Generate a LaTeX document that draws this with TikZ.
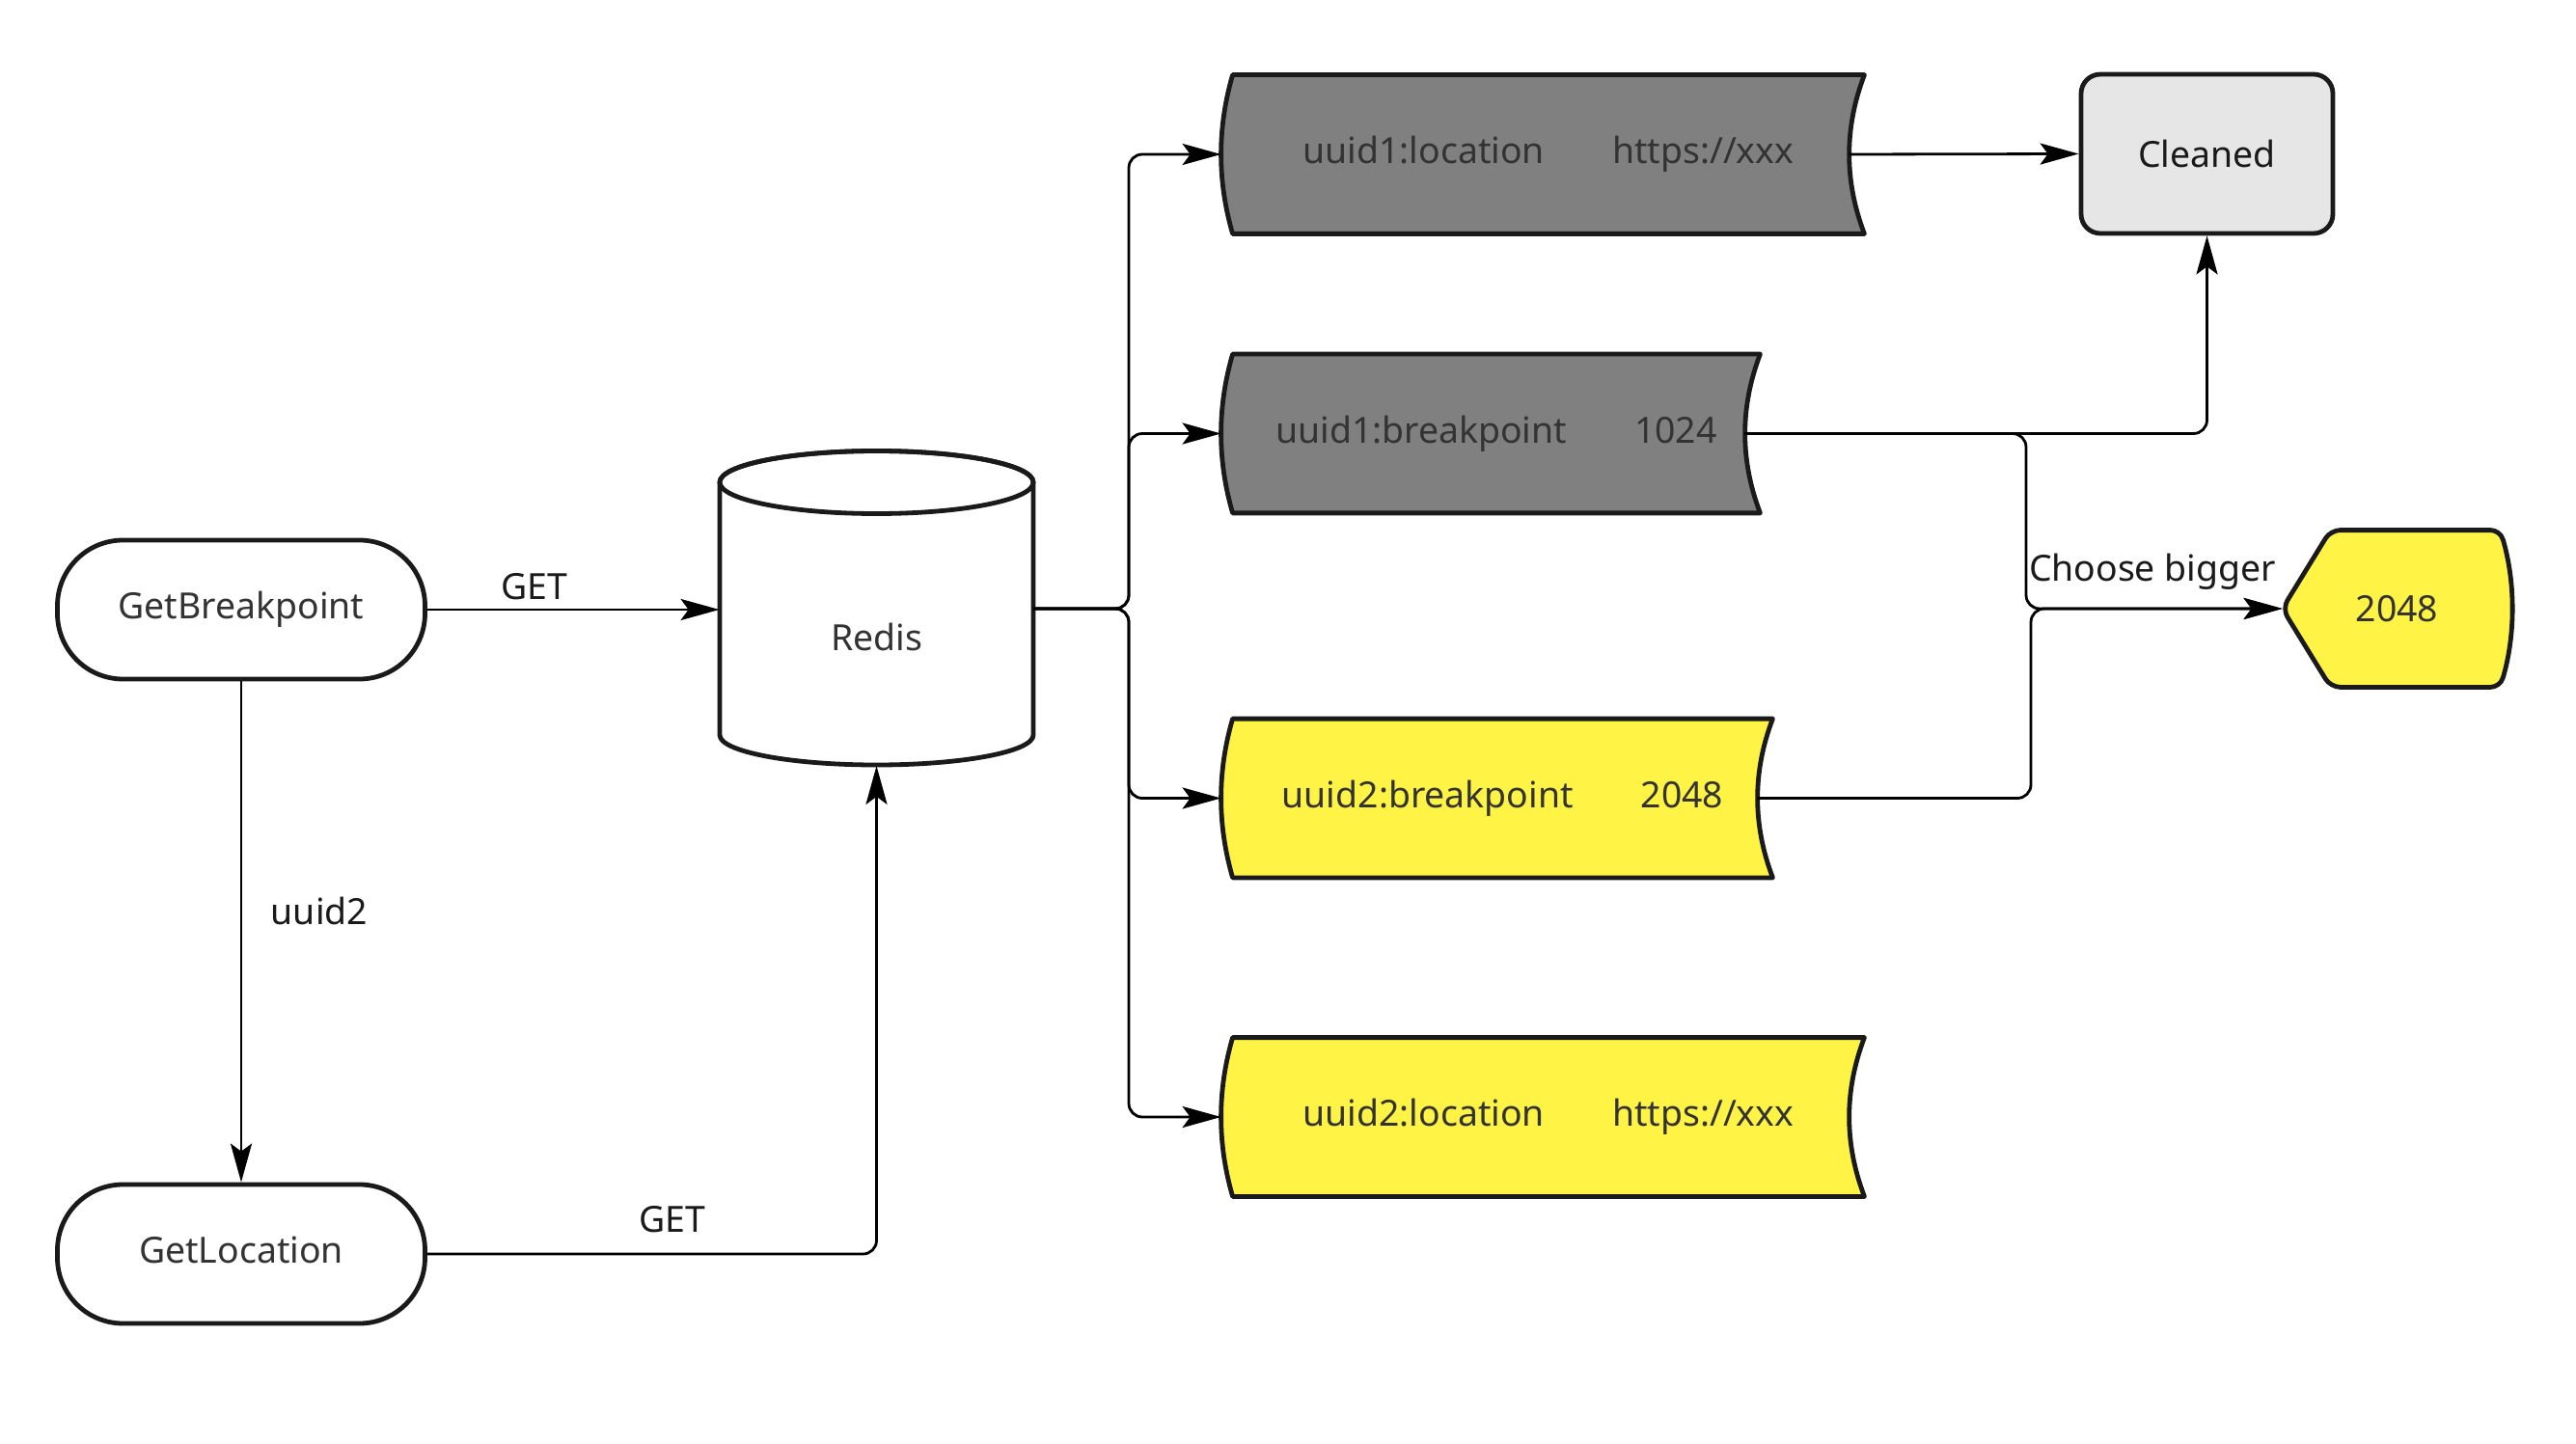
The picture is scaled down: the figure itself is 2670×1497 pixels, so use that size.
\documentclass[tikz,border=0pt]{standalone}
\usepackage{fontspec}
\setmainfont{Noto Sans}
\usetikzlibrary{arrows.meta,calc,backgrounds}
\definecolor{ink}{HTML}{1A1A1A}
\definecolor{txt}{HTML}{333333}
\definecolor{grayfill}{HTML}{808080}
\definecolor{yel}{HTML}{FFF445}
\definecolor{lightg}{HTML}{E6E6E6}
\newcommand\storedbox[2]{%
  \path[shapeline,fill=#2] (#1.north west) -- (#1.north east)
    .. controls ($(#1.north east)+(-21,55)$) and ($(#1.south east)+(-21,-55)$) .. (#1.south east)
    -- (#1.south west)
    .. controls ($(#1.south west)+(-16,-55)$) and ($(#1.north west)+(-16,55)$) .. (#1.north west) -- cycle;}
\begin{document}
\begin{tikzpicture}[x=0.5pt,y=-0.5pt,
  conn/.style={draw=black,line width=1.4pt,-{Stealth[length=20pt,width=11pt,inset=4pt]}},
  txtfont/.style={font=\fontsize{18.7pt}{23pt}\selectfont},
  term/.style={draw=ink,line width=2.4pt,rounded corners=34pt,minimum width=190.5pt,minimum height=72pt,fill=white,text=txt,txtfont,text height=13.5pt,text depth=4.5pt},
  rec/.style={inner sep=0pt,minimum height=82pt,text=txt,txtfont},
  lbl/.style={text=ink,txtfont,inner sep=0pt,anchor=base},
  shapeline/.style={draw=ink,line width=2.4pt,line join=round}
]
\begin{pgfonlayer}{background}
\fill[white] (0,0) rectangle (2670,1497);
\end{pgfonlayer}
\useasboundingbox (0,0) rectangle (2670,1497);

% terminals
\node[term] (gb) at (250,632) {GetBreakpoint};
\node[term] (gl) at (250,1300) {GetLocation};

% redis
\node[inner sep=0pt,minimum width=162.5pt,minimum height=162.5pt] (redis) at (908.5,631) {};
\path[shapeline,fill=white] (746,500) -- (746,762)
  arc[start angle=180,end angle=360,x radius=81.25pt,y radius=15.5pt] -- (1071,500)
  arc[start angle=0,end angle=180,x radius=81.25pt,y radius=16.25pt] -- cycle;
\draw[shapeline] (908.5,500) ellipse[x radius=81.25pt,y radius=16.25pt];
\node[txtfont,text=txt,inner sep=0pt] (redistxt) at (908.5,660) {Redis};

% stored boxes
\node[rec,minimum width=327pt] (b1) at (1605,160) {uuid1:location\hspace{35pt}https://xxx};
\node[rec,minimum width=273pt] (b2) at (1551,449.5) {uuid1:breakpoint\hspace{35pt}1024};
\node[rec,minimum width=279.5pt] (b3) at (1557.5,827.5) {uuid2:breakpoint\hspace{35pt}2048};
\node[rec,minimum width=327pt] (b4) at (1605,1158) {uuid2:location\hspace{35pt}https://xxx};
\begin{pgfonlayer}{background}
\storedbox{b1}{grayfill}
\storedbox{b2}{grayfill}
\storedbox{b3}{yel}
\storedbox{b4}{yel}
\end{pgfonlayer}

% cleaned
\node[draw=ink,line width=2.4pt,rounded corners=10pt,fill=lightg,minimum width=130.5pt,minimum height=82.5pt,text=ink,txtfont] (cl) at (2287.5,159.5) {Cleaned};

% 2048 display
\node[rec,minimum width=118.5pt,minimum height=81pt] (v) at (2484.5,631) {2048};
\begin{pgfonlayer}{background}
\path[shapeline,fill=yel,rounded corners=5pt] (v.west) -- ($(v.north west)+(50,0)$) -- ($(v.north east)+(-12,0)$)
  .. controls ($(v.north east)+(4,54)$) and ($(v.south east)+(4,-54)$) .. ($(v.south east)+(-12,0)$)
  -- ($(v.south west)+(50,0)$) -- cycle;
\end{pgfonlayer}

% connectors
\draw[conn] (gb.east) -- (gb.east -| redis.west);
\draw[conn] (gb.south) -- (gl.north);
\draw[conn,rounded corners=7pt] (gl.east) -| (redis.south);
\coordinate (trunk) at (1170,631);
\foreach \b in {b1,b2,b3,b4}
  \draw[conn,rounded corners=7pt] (redis.east) -- (trunk) |- ($(\b.west)+(-12,0)$);
\coordinate (b1e) at ($(b1.east)+(-16,0)$);
\coordinate (b2e) at ($(b2.east)+(-16,0)$);
\coordinate (b3e) at ($(b3.east)+(-16,0)$);
\draw[conn] (b1e) -- (cl.west);
\draw[conn,rounded corners=7pt] (b2e) -| (cl.south);
\coordinate (j1) at (2100,0);
\coordinate (j2) at (2105,0);
\draw[conn,rounded corners=7pt] (b2e) -- (b2e -| j1) |- (v.west);
\draw[conn,rounded corners=7pt] (b3e) -- (b3e -| j2) |- (v.west);

% labels
\node[lbl] (get1) at (554,621) {GET};
\node[lbl] (uuidlbl) at (331,958) {uuid2};
\node[lbl] (get2) at (697,1277) {GET};
\node[lbl] (choose) at (2231,602) {Choose bigger};
\end{tikzpicture}
\end{document}
